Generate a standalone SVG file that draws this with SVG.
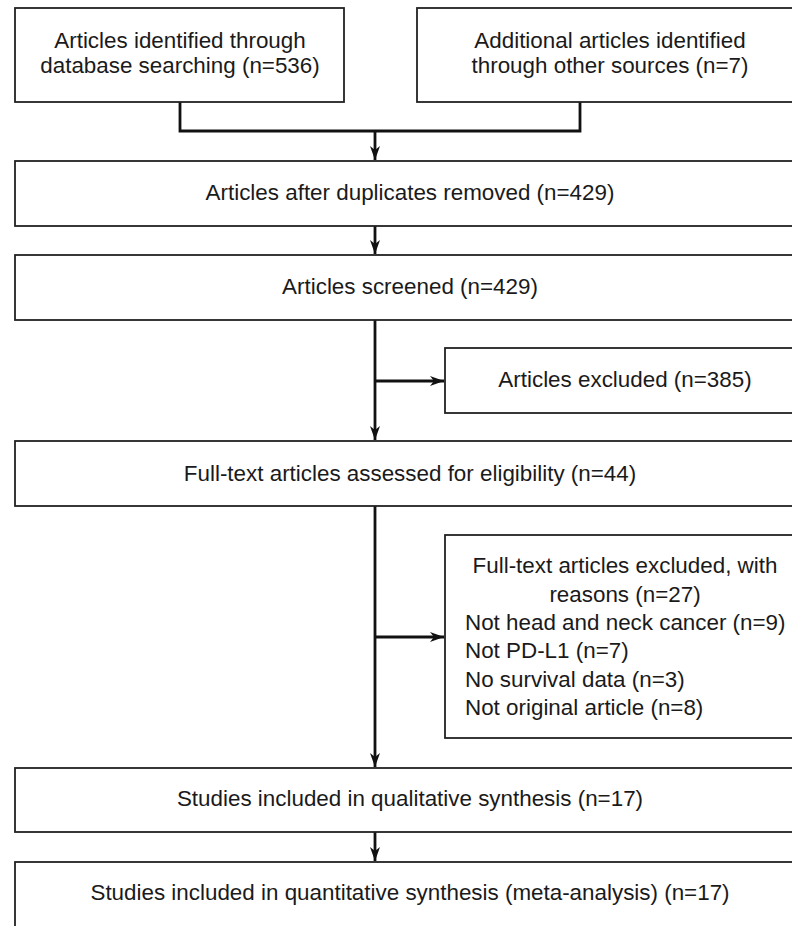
<svg xmlns="http://www.w3.org/2000/svg" width="792" height="926" viewBox="0 0 792 926">
<style>
.box{fill:#fff;stroke:#222;stroke-width:1.8}
.t{font-family:"Liberation Sans",Arial,sans-serif;font-size:22.4px;fill:#1a1a1a}
.c{text-anchor:middle}
.ln{fill:none;stroke:#111;stroke-width:2.8}
</style>
<defs>
<marker id="ah" viewBox="0 0 14 10" refX="14" refY="5" markerWidth="14" markerHeight="10" markerUnits="userSpaceOnUse" orient="auto">
<path d="M0,0 L14,5 L0,10 L4,5 Z" fill="#111"/>
</marker>
</defs>
<rect width="792" height="926" fill="#fff"/>
<g id="connectors">
<path class="ln" d="M180,102 V131 H580 V102"/>
<path class="ln" d="M375,131 V160" marker-end="url(#ah)"/>
<path class="ln" d="M375,226 V254" marker-end="url(#ah)"/>
<path class="ln" d="M375,320 V440" marker-end="url(#ah)"/>
<path class="ln" d="M375,381 H444" marker-end="url(#ah)"/>
<path class="ln" d="M375,506 V767" marker-end="url(#ah)"/>
<path class="ln" d="M375,637 H444" marker-end="url(#ah)"/>
<path class="ln" d="M375,832 V861" marker-end="url(#ah)"/>
</g>
<g id="n1">
<rect class="box" x="15" y="8" width="329" height="94"/>
<text class="t c" x="180" y="48">Articles identified through</text>
<text class="t c" x="180" y="73">database searching (n=536)</text>
</g>
<g id="n2">
<rect class="box" x="417" y="8" width="390" height="94"/>
<text class="t c" x="610" y="48">Additional articles identified</text>
<text class="t c" x="610" y="73">through other sources (n=7)</text>
</g>
<g id="n3">
<rect class="box" x="15" y="161" width="790" height="65"/>
<text class="t c" x="410" y="200">Articles after duplicates removed (n=429)</text>
</g>
<g id="n4">
<rect class="box" x="15" y="255" width="790" height="65"/>
<text class="t c" x="410" y="294">Articles screened (n=429)</text>
</g>
<g id="n5">
<rect class="box" x="445" y="348" width="360" height="65"/>
<text class="t c" x="625" y="387">Articles excluded (n=385)</text>
</g>
<g id="n6">
<rect class="box" x="15" y="441" width="790" height="65"/>
<text class="t c" x="410" y="481">Full-text articles assessed for eligibility (n=44)</text>
</g>
<g id="n7">
<rect class="box" x="445" y="535" width="360" height="203"/>
<text class="t c" x="625" y="573">Full-text articles excluded, with</text>
<text class="t c" x="625" y="602">reasons (n=27)</text>
<text class="t" x="465" y="630">Not head and neck cancer (n=9)</text>
<text class="t" x="465" y="658">Not PD-L1 (n=7)</text>
<text class="t" x="465" y="687">No survival data (n=3)</text>
<text class="t" x="465" y="715">Not original article (n=8)</text>
</g>
<g id="n8">
<rect class="box" x="15" y="768" width="790" height="64"/>
<text class="t c" x="410" y="806">Studies included in qualitative synthesis (n=17)</text>
</g>
<g id="n9">
<rect class="box" x="15" y="862" width="790" height="70"/>
<text class="t c" x="410" y="900">Studies included in quantitative synthesis (meta-analysis) (n=17)</text>
</g>
</svg>
